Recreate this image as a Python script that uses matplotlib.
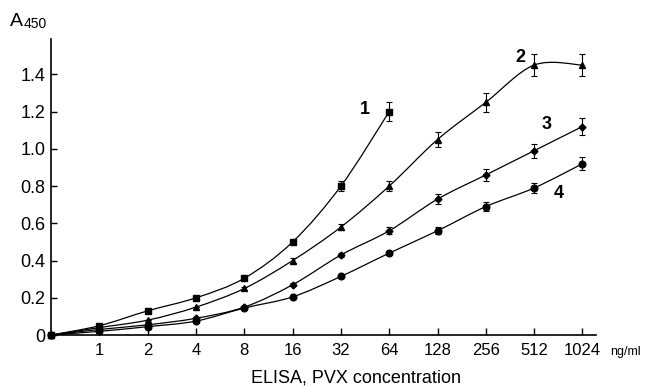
import numpy as np
import matplotlib
matplotlib.use("Agg")
import matplotlib.pyplot as plt
from matplotlib.path import Path
from matplotlib.patches import PathPatch

plt.rcParams['font.family'] = ['Liberation Sans', 'DejaVu Sans']

# concentrations (ng/ml), plotted at equal spacing
conc_labels = ['', '1', '2', '4', '8', '16', '32', '64', '128', '256', '512', '1024']

# A450 readings for the four curves
s1 = [0, 0.05, 0.13, 0.20, 0.305, 0.50, 0.80, 1.20]
s1_err = [0, 0, 0, 0, 0.008, 0.012, 0.025, 0.05]
s2 = [0, 0.04, 0.08, 0.15, 0.25, 0.40, 0.58, 0.80, 1.05, 1.25, 1.45, 1.45]
s2_err = [0, 0, 0, 0, 0.008, 0.012, 0.018, 0.028, 0.04, 0.05, 0.06, 0.06]
s3 = [0, 0.03, 0.055, 0.09, 0.15, 0.27, 0.43, 0.56, 0.73, 0.86, 0.99, 1.12]
s3_err = [0, 0, 0, 0, 0, 0.008, 0.012, 0.02, 0.028, 0.033, 0.038, 0.045]
s4 = [0, 0.02, 0.045, 0.075, 0.145, 0.205, 0.315, 0.44, 0.56, 0.69, 0.79, 0.92]
s4_err = [0, 0, 0, 0, 0, 0, 0.008, 0.012, 0.018, 0.022, 0.028, 0.035]

series = [
    (s4, s4_err, 'o', 4.8, '4'),
    (s3, s3_err, 'D', 3.5, '3'),
    (s2, s2_err, '^', 4.8, '2'),
    (s1, s1_err, 's', 4.5, '1'),
]
label_pos = {'1': (6.5, 1.21), '2': (9.72, 1.49), '3': (10.25, 1.13), '4': (10.5, 0.76)}


def smooth_path(x, y):
    # Catmull-Rom curve through the points, drawn as cubic beziers
    pts = np.column_stack([x, y]).astype(float)
    ext = np.vstack([pts[0], pts, pts[-1]])
    verts = [pts[0]]
    codes = [Path.MOVETO]
    for i in range(1, len(ext) - 2):
        p0, p1, p2, p3 = ext[i - 1], ext[i], ext[i + 1], ext[i + 2]
        verts += [p1 + (p2 - p0) / 6, p2 - (p3 - p1) / 6, p2]
        codes += [Path.CURVE4] * 3
    return Path(verts, codes)


fig = plt.figure(figsize=(6.49, 3.86), dpi=100)
ax = fig.add_axes([0.0786, 0.132, 0.839, 0.767])

for vals, err, mk, ms, name in series:
    x = np.arange(len(vals))
    ax.add_patch(PathPatch(smooth_path(x, vals), facecolor='none',
                           edgecolor='black', lw=0.9))
    ax.errorbar(x, vals, yerr=err, fmt=mk, color='black', ms=ms,
                elinewidth=0.8, capsize=2.5, capthick=0.8, clip_on=False,
                zorder=3)
    lx, ly = label_pos[name]
    ax.text(lx, ly, name, fontsize=13, fontweight='bold', ha='center', va='center')

ax.set_xlim(0, 11.27)
ax.set_ylim(0, 1.59)
ax.set_xticks(np.arange(1, 12))
ax.set_xticklabels(conc_labels[1:], fontsize=12)
ax.set_yticks([0, 0.2, 0.4, 0.6, 0.8, 1.0, 1.2, 1.4])
ax.set_yticklabels(['0', '0.2', '0.4', '0.6', '0.8', '1.0', '1.2', '1.4'], fontsize=13)
ax.tick_params(axis='x', direction='in', length=5, width=1, pad=6)
ax.tick_params(axis='y', direction='in', length=4, width=1, pad=4)
for side in ['top', 'right']:
    ax.spines[side].set_visible(False)
ax.spines['left'].set_linewidth(1.2)
ax.spines['bottom'].set_linewidth(1.2)

ax.set_xlabel('ELISA, PVX concentration', fontsize=13)
ax.xaxis.set_label_coords(0.56, -0.115)
fig.text(0.94, 0.088, 'ng/ml', fontsize=9, ha='left', va='center')
fig.text(0.015, 0.945, 'A', fontsize=14, ha='left', va='center')
fig.text(0.036, 0.938, '450', fontsize=10, ha='left', va='center')

fig.savefig('out.png', dpi=100)
